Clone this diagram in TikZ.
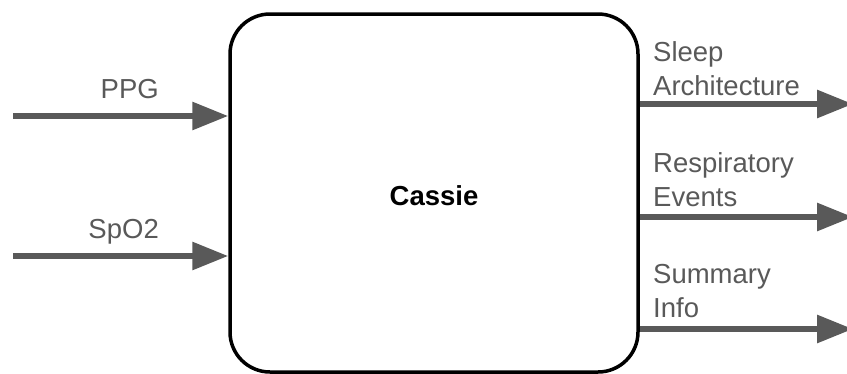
\documentclass[tikz,border=0pt]{standalone}
\usepackage{fontspec}
\setmainfont{Liberation Sans}
\usetikzlibrary{arrows.meta}
\definecolor{arrgray}{HTML}{595959}
\tikzset{
  mainbox/.style={draw=black, line width=3.5pt, rounded corners=40pt, minimum width=408pt, minimum height=358pt, inner sep=0pt},
  arr/.style={draw=arrgray, line width=6pt, -{Triangle[length=36pt,width=27pt]}},
  lbl/.style={text=arrgray, font=\fontsize{27.5}{33}\selectfont, inner sep=0pt},
  ttl/.style={text=black, font=\fontsize{27.5}{33}\selectfont\bfseries, inner sep=0pt}
}
\begin{document}
\begin{tikzpicture}[x=1pt,y=-1pt]
\useasboundingbox (0,0) rectangle (847,373);
\node[mainbox] (cassie) at (434,193) {};
\node[ttl] (title) at (434,196) {Cassie};
% inputs
\coordinate (ppgin) at (13,116);
\coordinate (spoin) at (13,256);
\draw[arr] (ppgin) -- (ppgin -| cassie.west);
\draw[arr] (spoin) -- (spoin -| cassie.west);
\node[lbl, anchor=base east] (ppg) at (159,98) {PPG};
\node[lbl, anchor=base east] (spo) at (159,238) {SpO2};
% outputs
\coordinate (o1) at (853,104);
\coordinate (o2) at (853,217);
\coordinate (o3) at (853,329);
\draw[arr] (o1 -| cassie.east) -- (o1);
\draw[arr] (o2 -| cassie.east) -- (o2);
\draw[arr] (o3 -| cassie.east) -- (o3);
\node[lbl, anchor=base west] (sleep1) at (653,61) {Sleep};
\node[lbl, anchor=base west] (sleep2) at (653,95) {Architecture};
\node[lbl, anchor=base west] (resp1) at (653,172) {Respiratory};
\node[lbl, anchor=base west] (resp2) at (653,206) {Events};
\node[lbl, anchor=base west] (sum1) at (653,283) {Summary};
\node[lbl, anchor=base west] (sum2) at (653,317) {Info};
\end{tikzpicture}
\end{document}
